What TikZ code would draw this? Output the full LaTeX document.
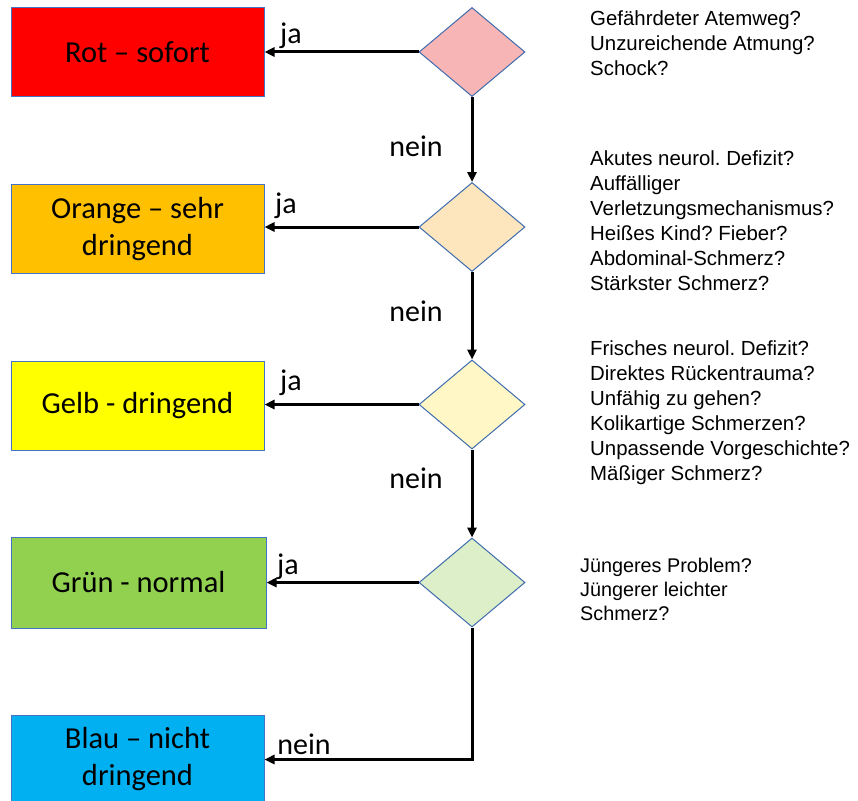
\documentclass[tikz,border=0pt]{standalone}
\usepackage{fontspec}
\setmainfont{Carlito}
\newfontfamily\qfont{Liberation Sans}
\usetikzlibrary{shapes.geometric,arrows.meta}
\frenchspacing
\definecolor{cRed}{HTML}{FF0000}
\definecolor{cOrange}{HTML}{FFC000}
\definecolor{cYellow}{HTML}{FFFF00}
\definecolor{cGreen}{HTML}{92D050}
\definecolor{cBlue}{HTML}{00B0F0}
\definecolor{dRed}{HTML}{F8B5B5}
\definecolor{dOrange}{HTML}{FDE6BE}
\definecolor{dYellow}{HTML}{FFF8C6}
\definecolor{dGreen}{HTML}{DCEFC8}
\definecolor{bordercol}{HTML}{4472C4}
\definecolor{dbordercol}{HTML}{3F6CAE}
\tikzset{
  levelbox/.style={rectangle, draw=bordercol, line width=1pt, minimum width=253pt, minimum height=89pt,
    inner sep=0pt, align=center, font=\fontsize{30.5}{37}\selectfont},
  decision/.style={diamond, draw=dbordercol, line width=1pt, minimum width=106pt, minimum height=89pt, inner sep=0pt},
  arr/.style={line width=3pt, -{Triangle[length=10pt,width=9pt]}},
  lbl/.style={font=\fontsize{30}{36}\selectfont, inner sep=0pt},
  qtext/.style={anchor=north west, inner sep=0pt, align=left, font=\qfont\fontsize{20.4}{25}\selectfont}
}
\begin{document}
\begin{tikzpicture}[x=1pt,y=-1pt]
\useasboundingbox[fill=white] (0,0) rectangle (858,800);
% level boxes
\node[levelbox, fill=cRed] (rot) at (137.5,52) {Rot -- sofort};
\node[levelbox, fill=cOrange] (orange) at (137.5,229) {Orange -- sehr\\dringend};
\node[levelbox, fill=cYellow] (gelb) at (137.5,405.5) {Gelb - dringend};
\node[levelbox, fill=cGreen, minimum width=255pt, minimum height=91pt] (gruen) at (138.5,582.5) {Gr\"un - normal};
\node[levelbox, fill=cBlue] (blau) at (137.5,759.5) {Blau -- nicht\\dringend};
% decisions
\node[decision, fill=dRed] (d1) at (472,52) {};
\node[decision, fill=dOrange] (d2) at (472,227) {};
\node[decision, fill=dYellow] (d3) at (472,404.5) {};
\node[decision, fill=dGreen] (d4) at (472,582.5) {};
% connectors
\draw[arr] (d1.west) -- (rot.east);
\draw[arr] (d2.west) -- (orange.east |- d2.west);
\draw[arr] (d3.west) -- (gelb.east |- d3.west);
\draw[arr] (d4.west) -- (gruen.east |- d4.west);
\draw[arr] (d1.south) -- (d2.north);
\draw[arr] (d2.south) -- (d3.north);
\draw[arr] (d3.south) -- (d4.north);
\draw[arr] (d4.south) |- (blau.east);
% labels
\node[lbl] (ja1) at (291,36) {ja};
\node[lbl] (ja2) at (286,206) {ja};
\node[lbl] (ja3) at (291,383) {ja};
\node[lbl] (ja4) at (288,567) {ja};
\node[lbl] (nein1) at (416,146) {nein};
\node[lbl] (nein2) at (416,311) {nein};
\node[lbl] (nein3) at (416,478) {nein};
\node[lbl] (nein4) at (304,744) {nein};
% questions
\node[qtext] (q1) at (590,9) {\rule{0pt}{16pt}Gef\"ahrdeter Atemweg?\\Unzureichende Atmung?\\Schock?};
\node[qtext] (q2) at (590,149) {\rule{0pt}{16pt}Akutes neurol. Defizit?\\Auff\"alliger\\Verletzungsmechanismus?\\Hei\ss es Kind? Fieber?\\Abdominal-Schmerz?\\St\"arkster Schmerz?};
\node[qtext] (q3) at (590,339) {\rule{0pt}{16pt}Frisches neurol. Defizit?\\Direktes R\"uckentrauma?\\Unf\"ahig zu gehen?\\Kolikartige Schmerzen?\\Unpassende Vorgeschichte?\\M\"a\ss iger Schmerz?};
\node[qtext, font=\qfont\fontsize{19.8}{24}\selectfont] (q4) at (580,556) {\rule{0pt}{16pt}J\"ungeres Problem?\\J\"ungerer leichter\\Schmerz?};
\end{tikzpicture}
\end{document}
